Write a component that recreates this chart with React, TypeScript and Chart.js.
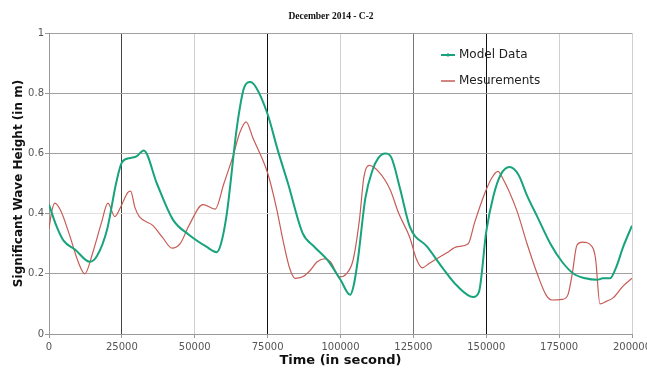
import React, { useEffect, useRef } from "react";
import { Chart, registerables } from "chart.js";

Chart.register(...registerables);

const chartTitle = "December 2014 - C-2";
const xTitle = "Time (in second)";
const yTitle = "Significant Wave Height (in m)";
const modelLabel = "Model Data";
const measLabel = "Mesurements";

const modelTime = [0, 2500, 5000, 9000, 14000, 16500, 20000, 23000, 25000, 28000, 30000, 32500, 37000, 42500, 48000, 54000, 57500, 59000, 61000, 64500, 67000, 69000, 71000, 75000, 78500, 82000, 87000, 91000, 95500, 100000, 103300, 104500, 106000, 108500, 111000, 113000, 115300, 117500, 120500, 123800, 129700, 135000, 140000, 145500, 147500, 150000, 152500, 155000, 158000, 161000, 164000, 167500, 172000, 176000, 180000, 184000, 188000, 190000, 192500, 194500, 197000, 200000];
const modelValues = [0.43, 0.36, 0.31, 0.28, 0.24, 0.26, 0.35, 0.5, 0.57, 0.585, 0.59, 0.61, 0.5, 0.38, 0.33, 0.29, 0.272, 0.3, 0.4, 0.69, 0.82, 0.837, 0.82, 0.73, 0.61, 0.5, 0.335, 0.29, 0.246, 0.18, 0.13, 0.16, 0.25, 0.45, 0.545, 0.585, 0.6, 0.585, 0.48, 0.356, 0.29, 0.22, 0.16, 0.123, 0.14, 0.34, 0.46, 0.53, 0.555, 0.53, 0.46, 0.39, 0.3, 0.24, 0.2, 0.185, 0.18, 0.185, 0.185, 0.22, 0.29, 0.36];

const measTime = [0, 1000, 2000, 4000, 7000, 10000, 12300, 15000, 18000, 20200, 22600, 24500, 27000, 28000, 29500, 31000, 35700, 39000, 42200, 45000, 48000, 52800, 57000, 60000, 63100, 65500, 67600, 70000, 75000, 78000, 80300, 82500, 84400, 87000, 89500, 92000, 94700, 96500, 99800, 102000, 104300, 106500, 108000, 109800, 113000, 117000, 120000, 123800, 126000, 128000, 130500, 133000, 136500, 140000, 143800, 146000, 149600, 152000, 154000, 155500, 160500, 164000, 167500, 170500, 172500, 176000, 178000, 179500, 181100, 183000, 186300, 187500, 189000, 191500, 193500, 197000, 200000];
const measValues = [0.35, 0.41, 0.435, 0.41, 0.33, 0.24, 0.2, 0.27, 0.37, 0.435, 0.39, 0.42, 0.47, 0.475, 0.42, 0.39, 0.36, 0.32, 0.285, 0.3, 0.36, 0.43, 0.415, 0.5, 0.59, 0.67, 0.705, 0.65, 0.535, 0.42, 0.31, 0.22, 0.185, 0.19, 0.21, 0.24, 0.25, 0.24, 0.19, 0.2, 0.245, 0.38, 0.52, 0.56, 0.54, 0.48, 0.4, 0.32, 0.25, 0.22, 0.235, 0.25, 0.27, 0.29, 0.3, 0.37, 0.47, 0.52, 0.54, 0.52, 0.41, 0.3, 0.2, 0.13, 0.113, 0.115, 0.13, 0.2, 0.295, 0.305, 0.29, 0.25, 0.1, 0.11, 0.12, 0.16, 0.185];

const GREEN = "#17a37c";
const RED = "#c65c55";

const titlePlugin = {
  id: "customTitle",
  afterDraw(chart: any) {
    const ctx = chart.ctx;
    ctx.save();
    ctx.fillStyle = "#111";
    ctx.font = "bold 9.5px 'Liberation Serif', serif";
    ctx.textAlign = "center";
    ctx.textBaseline = "middle";
    ctx.fillText(chartTitle, 331, 17);
    ctx.restore();
  },
};

const legendPlugin = {
  id: "customLegend",
  afterDraw(chart: any) {
    const ctx = chart.ctx;
    const items = chart.data.datasets.map((d: any) => ({ label: d.label, color: d.borderColor }));
    const x0 = 441;
    const ys = [55, 81];
    ctx.save();
    items.forEach((it: any, i: number) => {
      const y = ys[i];
      ctx.strokeStyle = it.color;
      ctx.lineWidth = i === 0 ? 2 : 1.5;
      ctx.beginPath();
      ctx.moveTo(x0, y);
      ctx.lineTo(x0 + 14, y);
      ctx.stroke();
      if (i === 0) {
        ctx.lineWidth = 1;
        ctx.beginPath();
        ctx.moveTo(x0 + 7, y - 2);
        ctx.lineTo(x0 + 7, y + 2);
        ctx.stroke();
      }
      ctx.fillStyle = "#222";
      ctx.font = "12px 'DejaVu Sans'";
      ctx.textBaseline = "middle";
      ctx.textAlign = "left";
      ctx.fillText(it.label, x0 + 18, y);
    });
    ctx.restore();
  },
};

const xGridColor = (v: number) => {
  if (v === 75000 || v === 150000) return "#111";
  if (v === 25000) return "#444";
  if (v === 125000) return "#777";
  if (v === 0) return "#999";
  return "#d0d0d0";
};
const yGridColor = (v: number) => {
  if (Math.abs(v - 0.4) < 1e-6) return "#e0e0e0";
  return "#a0a0a0";
};

export default function App() {
  const ref = useRef<HTMLCanvasElement>(null);
  useEffect(() => {
    document.body.style.margin = "0";
    const chart = new Chart(ref.current!, {
      type: "line",
      data: {
        datasets: [
          {
            label: modelLabel,
            data: modelTime.map((t, i) => ({ x: t, y: modelValues[i] })),
            borderColor: GREEN,
            backgroundColor: GREEN,
            borderWidth: 2,
            pointRadius: 0,
            cubicInterpolationMode: "monotone",
          },
          {
            label: measLabel,
            data: measTime.map((t, i) => ({ x: t, y: measValues[i] })),
            borderColor: RED,
            backgroundColor: RED,
            borderWidth: 1.2,
            pointRadius: 0,
            cubicInterpolationMode: "monotone",
          },
        ],
      },
      options: {
        animation: false,
        responsive: false,
        layout: { padding: { left: 0, right: 15, top: 33, bottom: 0 } },
        plugins: {
          legend: { display: false },
          tooltip: { enabled: false },
          title: { display: false },
        },
        scales: {
          x: {
            type: "linear",
            min: 0,
            max: 200000,
            ticks: {
              stepSize: 25000,
              color: "#555",
              font: { family: "'DejaVu Sans'", size: 10 },
              padding: 3,
              maxRotation: 0,
              autoSkip: false,
              callback: (v: any) => String(v),
            },
            grid: {
              color: (c: any) => xGridColor(c.tick ? c.tick.value : 0),
              tickColor: "#999",
              tickLength: 4,
            },
            border: { color: "#999" },
            title: {
              display: true,
              text: xTitle,
              color: "#111",
              font: { family: "'DejaVu Sans'", size: 13, weight: "bold" },
              padding: { top: 2, bottom: 1 },
            },
            afterFit: (s: any) => {
              s.height = 35;
              s.paddingLeft = 0;
              s.paddingRight = 0;
            },
          },
          y: {
            min: 0,
            max: 1,
            ticks: {
              stepSize: 0.2,
              color: "#555",
              font: { family: "'DejaVu Sans'", size: 10 },
              padding: 1,
              callback: (v: any) => String(Math.round(v * 10) / 10),
            },
            grid: {
              color: (c: any) => yGridColor(c.tick ? c.tick.value : 0),
              tickColor: "#999",
              tickLength: 4,
            },
            border: { color: "#999" },
            title: {
              display: true,
              text: yTitle,
              color: "#111",
              font: { family: "'DejaVu Sans'", size: 12, weight: "bold" },
              padding: { top: 12, bottom: 0 },
            },
            afterFit: (s: any) => {
              s.width = 49;
              s.paddingTop = 0;
              s.paddingBottom = 0;
            },
          },
        },
      },
      plugins: [legendPlugin, titlePlugin],
    });
    return () => chart.destroy();
  }, []);
  return (
    <div style={{ position: "absolute", left: 0, top: 0, width: 647, height: 369, background: "#fff" }}>
      <canvas ref={ref} width={647} height={369} />
    </div>
  );
}
